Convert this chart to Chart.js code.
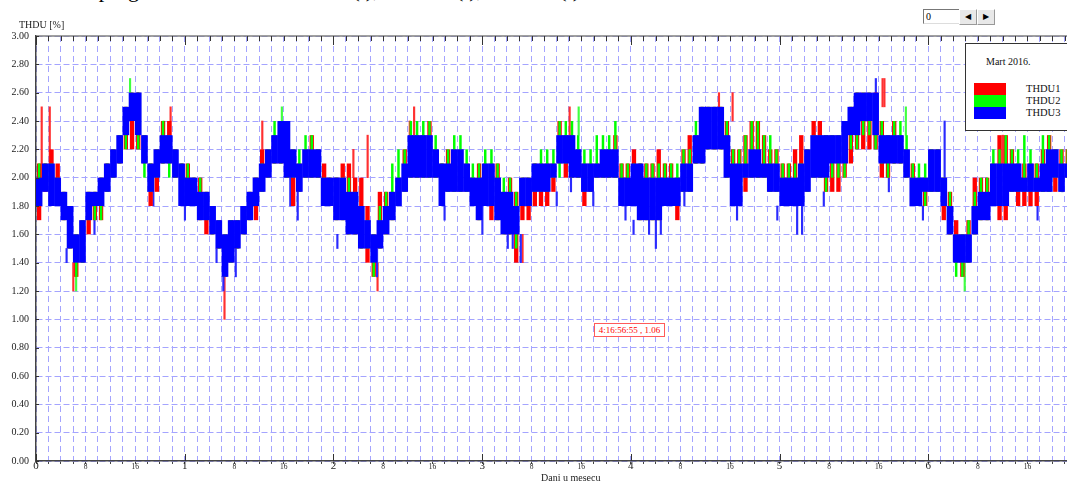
<!DOCTYPE html>
<html><head><meta charset="utf-8">
<script src="https://cdn.jsdelivr.net/npm/chart.js@4"></script>
<style>
html,body{margin:0;padding:0;background:#fff;width:1067px;height:482px;overflow:hidden;position:relative;font-family:"Liberation Serif","Times New Roman",serif;}
#wrap{position:absolute;left:0;top:0;width:1090px;height:482px;}
#toptext{position:absolute;left:-2px;top:-21px;font-size:22px;line-height:22px;white-space:nowrap;color:#000;}
#ytitle{position:absolute;left:19px;top:19px;font-size:10px;line-height:12px;color:#222;white-space:nowrap;}
#xtitle{position:absolute;left:541px;top:472px;font-size:10px;line-height:12px;color:#222;white-space:nowrap;}
#spin{position:absolute;left:923px;top:9px;height:15px;}
#spin .in{position:absolute;left:0;top:0;width:33px;height:13px;border:1px solid #777;border-right-color:#ddd;border-bottom-color:#ddd;background:#fff;font-size:10px;line-height:13px;padding-left:2px;box-sizing:content-box;}
#spin .b{position:absolute;top:0;width:16px;height:14px;background:#e8e8e8;border:1px solid #999;border-top-color:#fff;border-left-color:#fff;font-size:8px;line-height:14px;text-align:center;color:#000;}
#legend{position:absolute;left:965px;top:43px;width:120px;height:86px;border:1px solid #333;background:#fff;}
#legend .t{position:absolute;left:20px;top:12px;font-size:10px;line-height:12px;color:#111;white-space:nowrap;}
#legend .sw{position:absolute;left:8px;width:32px;height:12px;}
#legend .lb{position:absolute;left:60px;font-size:10.5px;line-height:12px;color:#111;}
#cursor{position:absolute;left:594px;top:323px;width:69px;height:12px;border:1px solid #ff5a5a;color:#f00;font-size:9px;line-height:12px;text-align:center;white-space:nowrap;background:#fff;}
</style></head><body>
<div id="toptext">Vremenski program analizatora THDU1(t), THDU2(t), THDU3(t)</div>
<div id="wrap"><canvas id="c" width="1090" height="482"></canvas></div>
<div id="ytitle">THDU [%]</div>
<div id="xtitle">Dani u mesecu</div>
<div id="spin"><div class="in">0</div><div class="b" style="left:36px">&#9664;</div><div class="b" style="left:54px">&#9654;</div></div>
<div id="legend">
  <div class="t">Mart 2016.</div>
  <div class="sw" style="top:39px;background:#ff0000"></div>
  <div class="sw" style="top:51px;background:#00ff00"></div>
  <div class="sw" style="top:63px;background:#0000ff"></div>
  <div class="lb" style="top:39px">THDU1</div>
  <div class="lb" style="top:51px">THDU2</div>
  <div class="lb" style="top:63px">THDU3</div>
</div>
<div id="cursor">4:16:56:55 , 1.06</div>
<script>
// values in tenths of a percent, one entry per hour (bin) of the week
const blueLo = [18,19,18,18,17,15,14,14,17,18, 18,19,20,21,23,24,23,21,19,20, 21,21,20,18,18,18,17,17,16,15,
  13,14,15,16,17,18,19,20,21,21, 20,20,19,20,20,20,18,18,17,17, 16,16,15,15,14,15,16,17,18,19,
  20,20,20,20,20,18,19,19,19,19, 18,17,18,18,17,16,16,16,18,18, 19,19,19,20,21,21,20,20,19,19,
  20,20,20,20,18,18,18,17,17,17, 17,18,18,18,19,19,21,21,22,22, 22,20,18,18,20,20,20,20,19,19,
  18,18,18,18,19,20,20,20,21,21, 21,23,23,24,24,23,21,21,21,21, 20,18,18,19,19,19,18,16,14,14,
  14,16,17,17,18,18,18,19,19,19, 19,19,19,19,20,19,20,20];
const blueHi = [20,21,21,20,19,18,16,17,19,19, 20,21,22,23,25,26,26,23,21,22, 23,23,22,21,20,20,19,19,18,17,
  16,17,17,18,19,20,21,22,23,24, 24,22,21,22,22,22,20,20,20,20, 19,19,18,17,16,17,18,19,20,21,
  23,23,23,23,22,21,21,22,22,21, 20,20,21,21,20,19,19,18,20,20, 21,21,21,21,23,23,23,22,21,21,
  21,22,22,22,20,20,21,21,20,20, 20,20,20,20,21,21,23,25,25,25, 25,23,21,21,21,22,22,21,21,21,
  20,20,20,21,22,23,23,23,23,23, 24,25,26,26,26,26,23,23,23,23, 22,20,20,20,22,22,20,18,16,16,
  16,18,19,19,21,21,21,21,21,20, 21,20,21,22,22,21,21,21];
const redLo = [17,19,18,18,17,15,13,14,16,17, 17,19,20,21,22,22,22,21,18,19, 21,21,20,19,18,18,17,16,16,15,
  13,14,15,16,17,17,19,20,21,21, 20,18,19,20,20,20,18,18,17,17, 16,16,15,14,13,15,16,17,18,19,
  20,20,20,20,20,18,19,19,19,19, 18,17,18,17,17,16,16,14,17,17, 18,18,18,19,21,20,20,20,18,19,
  20,20,20,20,18,18,18,17,17,17, 17,18,18,17,19,19,21,21,22,22, 22,20,18,18,19,20,20,20,19,19,
  18,18,18,18,19,20,20,19,19,19, 20,21,22,22,22,22,20,20,21,21, 20,18,18,18,19,19,17,16,14,13,
  14,16,17,17,18,17,17,19,18,18, 18,18,19,19,19,19,20,20];
const redHi = [21,21,22,21,19,18,16,17,19,19, 20,21,22,23,25,26,26,23,21,22, 24,24,22,21,21,20,20,19,18,17,
  16,17,17,18,19,20,22,22,23,24, 24,22,21,22,23,22,21,20,20,21, 21,20,20,18,16,19,19,19,20,22,
  23,23,23,24,22,21,22,22,22,21, 20,21,21,21,21,19,20,19,20,20, 21,21,21,21,24,23,23,22,21,21,
  21,22,22,23,21,21,22,21,21,21, 22,21,21,20,22,23,23,25,25,25, 25,24,22,22,23,24,24,23,22,22,
  21,21,22,23,22,24,24,23,23,23, 24,25,26,26,26,26,24,23,24,23, 22,21,20,20,22,22,20,19,17,16,
  17,20,20,20,21,23,23,22,21,21, 21,21,22,23,22,22,22,22];
const greenLo = [19,20,18,18,17,15,13,14,17,17, 17,19,20,21,22,24,22,20,19,20, 21,20,20,19,18,18,17,17,16,15,
  13,14,15,16,17,18,19,20,21,21, 20,20,19,20,20,20,18,18,17,17, 16,16,15,15,13,15,16,17,18,19,
  20,20,20,20,20,18,19,19,19,19, 18,17,18,18,17,16,16,15,18,18, 19,19,19,20,20,21,20,20,19,19,
  20,20,20,20,18,18,18,17,17,17, 17,18,18,18,19,19,21,21,22,22, 22,20,18,18,20,20,20,20,19,19,
  18,18,18,18,19,20,20,19,20,20, 20,22,22,23,23,22,21,20,21,21, 20,18,19,18,19,19,18,16,13,13,
  14,16,17,17,18,18,18,19,19,19, 19,19,19,19,20,19,20,20];
const greenHi = [21,21,21,20,19,18,16,17,19,19, 20,21,22,23,25,26,26,23,21,22, 24,23,22,21,21,20,20,19,18,17,
  16,17,17,18,19,20,21,22,24,24, 24,22,22,23,23,22,20,20,20,20, 20,19,18,17,16,18,19,21,22,22,
  24,24,24,24,23,21,22,23,23,22, 21,21,22,22,21,20,20,19,20,20, 21,22,22,22,24,24,24,23,22,22,
  23,23,23,24,21,21,21,21,21,21, 21,21,21,21,22,22,24,25,25,25, 25,24,22,22,23,24,24,23,23,22,
  21,21,21,21,22,23,23,23,23,23, 24,25,26,26,26,25,24,23,24,24, 23,21,21,21,22,22,20,19,16,16,
  17,19,20,20,22,22,23,22,22,23, 22,21,23,23,22,22,22,22];
// isolated short spikes: hour of week, from, to (tenths)
const redSpikeHour = [0.8,2.1,5.9,21.6,30.3,36.4,51.1,53.4,55.0,60.2,60.9,78.4,86.0,110.1,112.3,136.5,136.8,155.9];
const redSpikeFrom = [20,21,12,23,10,22,20,20,12,22,23,14,23,24,24,25,25,21];
const redSpikeTo   = [25,25,14,25,13,24,22,23,14,24,25,16,25,26,26,27,27,23];
const greenSpikeHour = [6.6,15.3,20.7,39.8,87.7,140.5,150.0];
const greenSpikeFrom = [12,26,22,23,23,23,12];
const greenSpikeTo   = [14,27,24,25,25,25,14];
const blueSpikeHour = [5.3,9.8,16.8,19.3,24.4,29.5,30.6,32.6,41.4,42.6,49.0,55.4,66.3,72.4,76.5,77.3,78.6,
  84.4,86.7,90.3,95.5,96.8,99.3,100.4,101.2,105.0,113.5,120.0,123.2,124.0,127.5,135.9,138.0,143.5,147.0,162.0,166.0];
const blueSpikeFrom = [14,16,25,18,17,14,12,13,18,17,15,13,17,16,15,15,14,
  18,19,18,17,16,16,15,16,18,17,17,16,16,18,25,19,17,20,17,19];
const blueSpikeTo   = [15,18,26,20,18,15,13,15,20,19,16,15,18,18,16,16,16,
  19,20,19,18,17,17,17,17,19,18,18,18,18,19,27,20,18,24,18,20];

const dayLabels = ['0','1','2','3','4','5','6','7'];
const hourLabels = {8:'8', 16:'16'};
const yTicksMax = 3.0, yTickStep = 0.2;

function bins(lo, hi){ return lo.map((v,i)=>({x:i+0.5, y:[v/10, hi[i]/10]})); }
function spikes(h, lo, hi){ return h.map((v,i)=>({x:v, y:[lo[i]/10, hi[i]/10]})); }

const GRID = '#a4a4ff';
const frame = {
  id:'frame',
  afterDraw(chart){
    const {ctx, chartArea:a, scales:{x,y}} = chart;
    ctx.save();
    ctx.strokeStyle='#808080'; ctx.lineWidth=1.5;
    ctx.beginPath(); ctx.moveTo(a.left,a.top); ctx.lineTo(a.right,a.top); ctx.stroke();
    ctx.strokeStyle='#333'; ctx.lineWidth=1;
    x.ticks.forEach(t=>{
      const px = Math.round(x.getPixelForValue(t.value))+0.5;
      const major = t.value % 24 === 0;
      ctx.beginPath();
      ctx.moveTo(px, a.top); ctx.lineTo(px, a.top + (major?9:5));
      if (major){ ctx.moveTo(px, a.bottom); ctx.lineTo(px, a.bottom-7); }
      ctx.stroke();
    });
    y.ticks.forEach(t=>{
      const py = Math.round(y.getPixelForValue(t.value))+0.5;
      ctx.beginPath(); ctx.moveTo(a.left, py); ctx.lineTo(a.left+3, py); ctx.stroke();
    });
    ctx.restore();
  }
};

new Chart(document.getElementById('c'), {
  type:'bar',
  data:{ datasets:[
    {label:'THDU1', data:bins(redLo, redHi), backgroundColor:'#ff0000', grouped:false, barPercentage:0.7, categoryPercentage:1, order:3},
    {label:'THDU2', data:bins(greenLo, greenHi), backgroundColor:'#00ff00', grouped:false, barPercentage:0.4, categoryPercentage:1, order:2},
    {label:'THDU3', data:bins(blueLo, blueHi), backgroundColor:'#0000ff', grouped:false, barPercentage:1.08, categoryPercentage:1, order:1},
    {label:'s1', data:spikes(redSpikeHour, redSpikeFrom, redSpikeTo), xAxisID:'xs', backgroundColor:'#ff3030', barThickness:1.5, order:6},
    {label:'s2', data:spikes(greenSpikeHour, greenSpikeFrom, greenSpikeTo), xAxisID:'xs', backgroundColor:'#40ff40', barThickness:1.5, order:5},
    {label:'s3', data:spikes(blueSpikeHour, blueSpikeFrom, blueSpikeTo), xAxisID:'xs', backgroundColor:'#2a2aff', barThickness:1.5, order:4}
  ]},
  options:{
    responsive:false, animation:false, devicePixelRatio:1,
    layout:{padding:{top:36,right:13,bottom:0,left:0}},
    plugins:{legend:{display:false}, tooltip:{enabled:false}},
    elements:{bar:{borderWidth:0, borderSkipped:false}},
    scales:{
      x:{type:'linear', min:0, max:168, offset:false,
        grid:{color:GRID, lineWidth:1, offset:false, tickLength:3, tickColor:'#444', tickWidth:1},
        border:{color:'#444', width:1.5, dash:[6,4]},
        afterFit(s){ s.height = 21; },
        ticks:{stepSize:2, autoSkip:false, maxRotation:0, minRotation:0, padding:-3, color:'#222',
          font:(c)=>{ const v=c.tick?c.tick.value:0; return v%24===0 ? {family:'Liberation Serif', size:11, lineHeight:1} : {family:'Liberation Serif', size:7.5, lineHeight:1.6}; },
          callback:(v)=>{ if (v%24===0) return dayLabels[v/24]; return hourLabels[v%24] || ''; }
        }
      },
      xs:{type:'linear', min:0, max:168, offset:false, display:false},
      y:{min:0, max:yTicksMax,
        grid:{color:GRID, lineWidth:1, drawTicks:false},
        border:{color:'#444', width:1.5, dash:[6,3]},
        afterFit(s){ s.width = 36; },
        ticks:{stepSize:yTickStep, padding:7, color:'#222', font:{family:'Liberation Serif', size:10},
          callback:(v)=>Number(v).toFixed(2)}
      }
    }
  },
  plugins:[frame]
});
</script>
</body></html>
